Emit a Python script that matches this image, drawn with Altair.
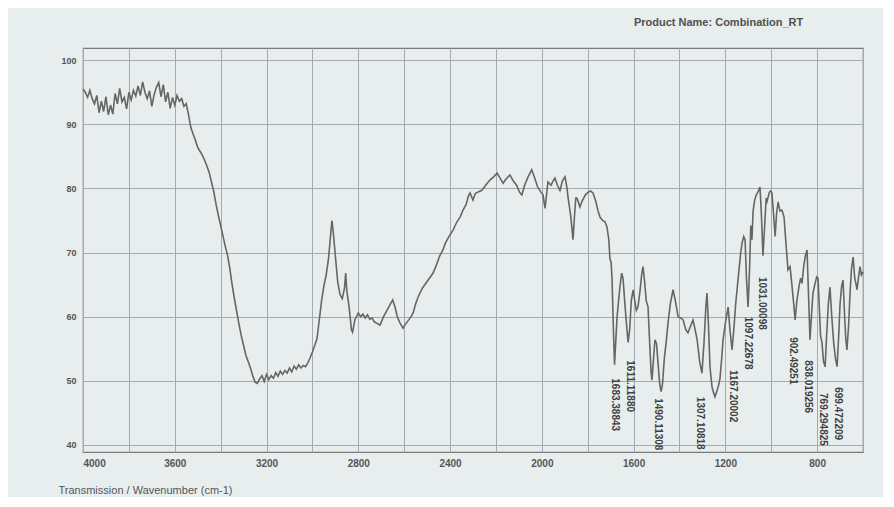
import altair as alt
import pandas as pd

# ---- spectrum (wavenumber cm-1, transmission %) ----
wavenumber = [
    4000, 3990, 3980, 3970, 3960, 3950, 3940, 3930, 3920, 3910, 3900, 3890, 3880, 3870, 3860,
    3850, 3840, 3830, 3820, 3810, 3800, 3790, 3780, 3770, 3760, 3750, 3740, 3730, 3720, 3710,
    3700, 3690, 3680, 3670, 3660, 3650, 3640, 3630, 3620, 3610, 3600, 3590, 3580, 3570, 3560,
    3550, 3540, 3530, 3520, 3510, 3500, 3490, 3480, 3470, 3460, 3450, 3440, 3430, 3420, 3410,
    3400, 3390, 3380, 3370, 3360, 3350, 3340, 3330, 3320, 3310, 3300, 3290, 3280, 3270, 3260,
    3250, 3240, 3230, 3220, 3210, 3200, 3190, 3180, 3170, 3160, 3150, 3140, 3130, 3120, 3110,
    3100, 3090, 3080, 3070, 3060, 3050, 3040, 3030, 3020, 3010, 3000, 2990, 2980, 2970, 2960,
    2950, 2940, 2930, 2920, 2915, 2910, 2900, 2890, 2880, 2870, 2860, 2855, 2850, 2840, 2830,
    2825, 2815, 2800, 2790, 2780, 2770, 2760, 2750, 2740, 2730, 2720, 2705, 2690, 2675, 2660,
    2650, 2640, 2630, 2618, 2605, 2595, 2580, 2570, 2561, 2550, 2540, 2530, 2518, 2500, 2490,
    2474, 2460, 2445, 2431, 2420, 2405, 2387, 2370, 2355, 2344, 2330, 2320, 2313, 2300, 2290,
    2275, 2261, 2245, 2226, 2210, 2195, 2180, 2169, 2155, 2139, 2125, 2110, 2097, 2087, 2075,
    2060, 2044, 2030, 2018, 2005, 1995, 1986, 1978, 1973, 1960, 1950, 1943, 1932, 1921, 1910,
    1899, 1890, 1886, 1875, 1868, 1864, 1858, 1852, 1847, 1840, 1834, 1825, 1810, 1799, 1788,
    1777, 1765, 1755, 1746, 1735, 1725, 1716, 1708, 1703, 1698, 1694, 1688, 1683, 1678, 1672,
    1668, 1660, 1652, 1646, 1638, 1630, 1624, 1617, 1610, 1602, 1595, 1588, 1581, 1572, 1565,
    1559, 1552, 1545, 1537, 1530, 1524, 1520, 1514, 1507, 1500, 1494, 1486, 1480, 1474, 1466,
    1458, 1450, 1440, 1428, 1418, 1406, 1395, 1384, 1373, 1363, 1352, 1341, 1332, 1323, 1312,
    1302, 1293, 1285, 1280, 1274, 1267, 1258, 1250, 1245, 1236, 1228, 1223, 1216, 1210, 1200,
    1188, 1180, 1171, 1162, 1155, 1149, 1140, 1133, 1127, 1120, 1114, 1108, 1101, 1095, 1089,
    1084, 1079, 1072, 1065, 1057, 1049, 1043, 1036, 1029, 1022, 1018, 1008, 1002, 997, 990,
    983, 977, 970, 962, 953, 944, 935, 927, 918, 910, 902, 896, 888, 880, 872,
    866, 858, 851, 844, 838, 831, 825, 818, 810, 802, 796, 790, 785, 779, 772,
    765, 758, 751, 744, 736, 728, 720, 713, 706, 700, 693, 687, 680, 675, 670,
    663, 656, 650, 643, 636, 630, 626, 620, 613, 607, 600,
]
transmission = [
    95.5, 95.0, 94.2, 95.3, 94.0, 93.2, 94.5, 91.8, 93.6, 92.0, 94.3, 91.5, 93.0, 91.6, 94.8,
    93.2, 95.6, 93.5, 94.2, 92.4, 95.0, 93.8, 95.3, 94.4, 96.0, 94.5, 96.6, 95.0, 94.0, 95.2,
    92.8, 94.6, 95.8, 96.5, 94.3, 96.2, 93.5, 95.0, 92.5, 94.2, 93.0, 94.5, 93.6, 94.0, 92.8,
    93.2, 91.5, 89.5, 88.5, 87.5, 86.4, 85.8, 85.2, 84.4, 83.5, 82.5, 81.0, 79.5, 77.5, 75.8,
    74.2, 72.6, 71.0, 69.6, 67.5, 65.0, 62.8, 60.8, 58.8, 57.0, 55.5, 54.0, 53.0, 52.0, 50.8,
    49.8, 49.6, 50.3, 50.8, 49.9, 51.0, 50.2, 50.8, 50.4, 51.3, 50.7, 51.5, 51.0, 51.6, 51.2,
    52.0, 51.4, 52.3, 51.8, 52.5, 52.0, 52.4, 52.2, 52.8, 53.6, 54.5, 55.5, 56.6, 59.5, 62.5,
    64.8, 66.5, 69.0, 73.0, 75.0, 73.5, 69.5, 65.5, 63.5, 62.8, 64.5, 66.8, 64.0, 61.5, 58.0,
    57.6, 59.5, 60.6, 60.0, 60.4, 59.8, 60.3, 59.6, 59.8, 59.2, 59.0, 58.7, 60.0, 61.0, 62.0,
    62.6, 61.5, 60.0, 59.0, 58.2, 58.8, 59.5, 60.0, 60.6, 62.0, 63.0, 63.8, 64.6, 65.5, 66.0,
    66.8, 68.0, 69.5, 70.4, 71.5, 72.5, 73.5, 74.8, 75.6, 76.6, 77.5, 78.8, 79.3, 78.2, 79.2,
    79.5, 79.7, 80.5, 81.3, 81.8, 82.4, 81.5, 80.8, 81.5, 82.1, 81.2, 80.5, 79.4, 79.0, 80.5,
    81.8, 82.9, 81.5, 80.2, 79.5, 79.0, 76.9, 79.5, 81.0, 80.5, 81.2, 81.6, 80.5, 79.7, 81.2,
    81.8, 80.0, 78.7, 76.0, 73.5, 72.0, 75.5, 78.5, 78.5, 77.8, 77.1, 78.0, 79.0, 79.4, 79.6,
    79.3, 78.0, 76.5, 75.5, 75.0, 74.8, 74.0, 72.0, 69.0, 68.5, 66.0, 58.0, 52.5, 56.0, 60.0,
    61.5, 64.5, 66.8, 66.0, 62.0, 58.5, 56.0, 58.0, 62.5, 64.2, 62.5, 61.0, 61.5, 64.0, 66.5,
    67.8, 65.5, 62.5, 61.5, 56.0, 51.5, 50.1, 53.0, 56.4, 55.8, 53.0, 49.5, 48.3, 49.5, 53.5,
    56.0, 59.0, 62.0, 64.2, 62.5, 60.0, 59.8, 59.5, 58.0, 57.5, 58.5, 59.5, 58.0, 56.4, 53.0,
    51.2, 56.0, 61.5, 63.7, 59.0, 52.2, 49.0, 48.0, 47.5, 48.5, 49.5, 50.5, 53.5, 56.4, 59.0,
    61.5, 58.0, 54.8, 58.5, 62.0, 64.2, 67.5, 70.0, 71.5, 72.5, 72.0, 66.0, 61.5, 67.0, 74.2,
    72.0, 76.5, 78.2, 79.0, 79.5, 80.2, 76.0, 69.5, 74.0, 78.5, 78.0, 79.4, 79.6, 79.3, 76.0,
    72.5, 76.0, 77.9, 76.5, 76.6, 75.5, 71.0, 67.3, 67.8, 65.0, 62.0, 59.5, 62.5, 64.5, 66.0,
    65.2, 68.0, 69.5, 70.4, 64.0, 56.4, 60.0, 63.7, 65.0, 66.2, 66.0, 61.0, 57.0, 56.0, 53.0,
    52.2, 57.5, 62.0, 64.6, 60.0, 56.0, 53.5, 52.2, 57.0, 62.0, 64.8, 65.7, 60.0, 56.5, 54.8,
    58.5, 64.0, 67.5, 69.3, 66.0, 65.0, 64.2, 66.0, 67.8, 66.5, 67.0,
]

# ---- peak annotations ----
peak_labels = [
    "1683.38843", "1611.11880", "1490.11308", "1307.10818", "1167.20002", "1097.22678",
    "1031.00098", "902.49251", "838.019256", "769.294825", "699.472209",
]
peak_wavenumber = [1681, 1616, 1493, 1310, 1166, 1101, 1040, 905, 840, 774, 709]
peak_label_top = [50.4, 53.2, 47.3, 47.5, 51.7, 60.0, 66.2, 56.8, 53.2, 48.1, 49.0]

title_text = "Product Name: Combination_RT"
x_title = "Transmission / Wavenumber (cm-1)"

x_ticks = list(range(600, 4001, 200))
y_ticks = list(range(40, 101, 5))

spec = pd.DataFrame({"wavenumber": wavenumber, "transmission": transmission})
peaks = pd.DataFrame({"wavenumber": peak_wavenumber, "transmission": peak_label_top,
                      "label": peak_labels})

FONT = "Liberation Sans"
x_scale = alt.Scale(domain=[600, 4000], reverse=True, nice=False, zero=False)
y_scale = alt.Scale(domain=[38.9, 101.9], nice=False, zero=False)

x_axis = alt.Axis(
    values=x_ticks, format="d",
    labelExpr="datum.value % 400 === 0 ? datum.label : ''",
    title=x_title, titleAnchor="start", titleAlign="left", titleBaseline="middle",
    titleX=-25, titleY=38, titleFont=FONT, titleFontSize=11, titleFontWeight="normal",
    titleColor="#555555",
    labelFont=FONT, labelFontSize=10, labelFontWeight="bold", labelColor="#555555",
    labelPadding=6, ticks=False, domain=False,
    grid=True, gridColor="#a3abad", gridWidth=1,
)
y_axis = alt.Axis(
    values=y_ticks, format="d",
    labelExpr="datum.value % 10 === 0 ? datum.label : ''",
    title=None,
    labelFont=FONT, labelFontSize=9, labelFontWeight="bold", labelColor="#555555",
    labelPadding=7, ticks=False, domain=False,
    grid=True, gridColor="#a3abad", gridWidth=1,
)

line = alt.Chart(spec).mark_line(color="#666666", strokeWidth=1.6).encode(
    x=alt.X("wavenumber:Q", scale=x_scale, axis=x_axis),
    y=alt.Y("transmission:Q", scale=y_scale, axis=y_axis),
    order="wavenumber:Q",
)

labels = alt.Chart(peaks).mark_text(
    angle=90, align="left", baseline="middle", font=FONT, fontSize=10,
    fontWeight="bold", color="#3f3f3f",
).encode(
    x=alt.X("wavenumber:Q", scale=x_scale),
    y=alt.Y("transmission:Q", scale=y_scale),
    text="label:N",
)

chart = (
    alt.layer(line, labels)
    .properties(
        width=780, height=404,
        autosize=alt.AutoSizeParams(type="none"),
        padding={"left": 75, "top": 40, "right": 20, "bottom": 45},
        background="#e8eeee",
        title=alt.TitleParams(
            text=title_text, anchor="end", dx=-63, offset=20, font=FONT,
            fontSize=11, fontWeight="bold", color="#505050",
        ),
    )
    .configure_view(stroke="#7a7a7a", strokeWidth=1.2)
)

chart.save("out.html", embed_options={"renderer": "svg", "actions": False})
